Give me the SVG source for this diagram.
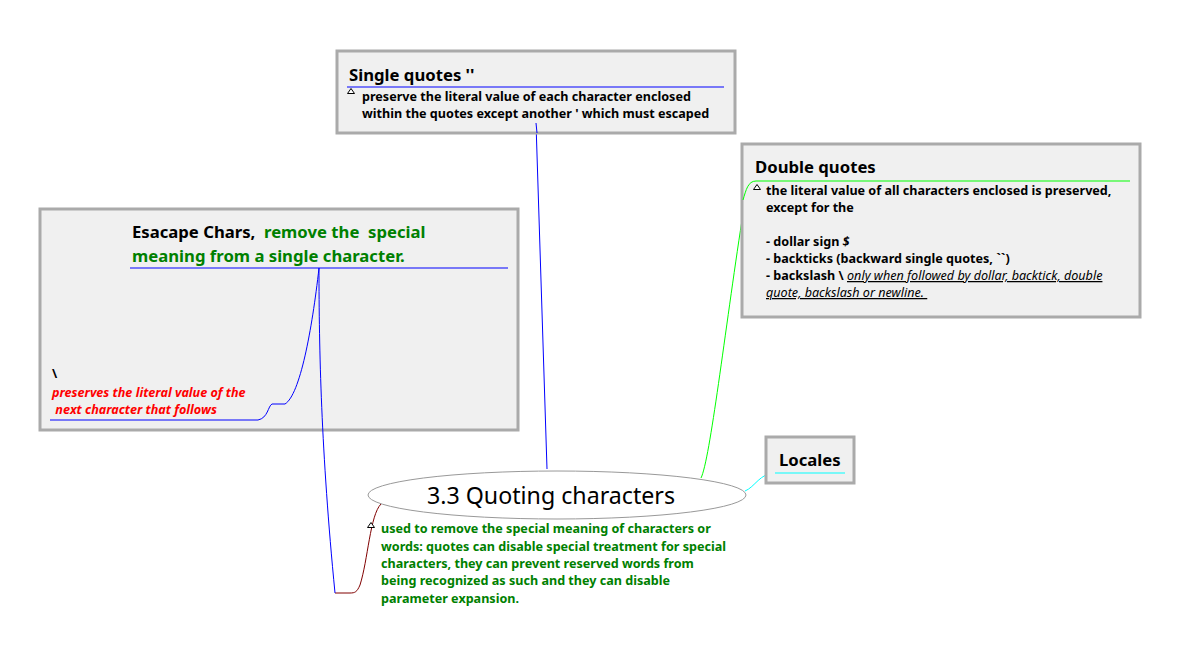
<svg xmlns="http://www.w3.org/2000/svg" width="1180" height="659" viewBox="0 0 1180 659">
<style>
.box{fill:#f0f0f0;stroke:#aaaaaa;stroke-width:3}
.t{font-family:"Noto Sans","Open Sans","DejaVu Sans",sans-serif;font-weight:bold;white-space:pre}
.title{font-size:16.7px;fill:#000}
.body{font-size:12.6px;fill:#000}
.green{fill:#008000}
.red{fill:#ff0000;font-style:italic}
.c{fill:none;stroke-width:1}
.tri{fill:#fff;stroke:#000;stroke-width:1}
</style>
<rect width="1180" height="659" fill="#fff"/>
<g id="connectors">
<path class="c" stroke="#800000" d="M381,504 C370,515 368,560 360,585 C357,592 355,593 350,593 L335,593"/>
<path class="c" stroke="#0000ff" d="M547,469 L536,123"/>
<path class="c" stroke="#00ff00" d="M701,478 C710,460 725,330 742,220 C746,190 748,181 756,181"/>
<path class="c" stroke="#00ffff" d="M745,491 C755,487 760,473 775,473"/>
</g>
<g id="node-single">
<rect class="box" x="337" y="51" width="398" height="82"/>
<text class="t title" x="349" y="81">Single quotes ''</text>
<line x1="347" y1="87" x2="724" y2="87" stroke="#0000ff" stroke-width="1"/>
<path class="tri" d="M347.5,93.5 L351,88.5 L354.5,93.5 Z"/>
<text class="t body" x="362" y="101">preserve the literal value of each character enclosed</text>
<text class="t body" x="362" y="118">within the quotes except another ' which must escaped</text>
<line x1="536" y1="123" x2="537" y2="133" stroke="#0000ff" stroke-width="1"/>
</g>
<g id="node-double">
<rect class="box" x="742" y="144" width="398" height="173"/>
<text class="t title" x="755" y="173">Double quotes</text>
<line x1="756" y1="181" x2="1130" y2="181" stroke="#00ff00" stroke-width="1"/>
<path class="c" stroke="#00ff00" d="M743,200 C746,190 748,181 756,181"/>
<path class="tri" d="M753.5,189.5 L757,184.5 L760.5,189.5 Z"/>
<text class="t body" x="766" y="195">the literal value of all characters enclosed is preserved,</text>
<text class="t body" x="766" y="212">except for the</text>
<text class="t body" x="766" y="246">- dollar sign <tspan font-style="italic">$</tspan></text>
<text class="t body" x="766" y="263">- backticks (backward single quotes, ``)</text>
<text class="t body" x="766" y="280">- backslash \ <tspan font-style="italic" font-weight="normal" text-decoration="underline">only when followed by dollar, backtick, double</tspan></text>
<text class="t body" x="766" y="297"><tspan font-style="italic" font-weight="normal" text-decoration="underline">quote, backslash or newline. </tspan></text>
</g>
<g id="node-escape">
<rect class="box" x="40" y="209" width="478" height="221"/>
<text class="t title" x="132" y="238">Esacape Chars, <tspan class="green"> remove the  special</tspan></text>
<text class="t title green" x="132" y="262">meaning from a single character.</text>
<line x1="130" y1="268" x2="508" y2="268" stroke="#0000ff" stroke-width="1"/>
<path class="c" stroke="#0000ff" d="M319,268 C312,330 300,395 285,404 L272,404 C268,406 268,418 258,420 L50,420"/>
<path class="c" stroke="#0000ff" d="M319,268 C319,350 321,450 335,593"/>
<text class="t body" x="52" y="378">\</text>
<text class="t body red" x="52" y="397">preserves the literal value of the</text>
<text class="t body red" x="52" y="414"> next character that follows</text>
</g>
<g id="node-locales">
<rect class="box" x="766" y="437" width="88" height="46"/>
<text class="t title" x="779" y="466">Locales</text>
<line x1="775" y1="473" x2="845" y2="473" stroke="#00ffff" stroke-width="1"/>
</g>
<g id="node-root">
<ellipse cx="557" cy="495" rx="189" ry="24" fill="#fff" stroke="#999999" stroke-width="1"/>
<text x="551" y="504" text-anchor="middle" font-family="'Noto Sans','Open Sans',sans-serif" font-size="23.2" fill="#000">3.3 Quoting characters</text>
<path class="tri" d="M367.5,527.5 L371,522.5 L374.5,527.5 Z"/>
<text class="t body green" x="381" y="533">used to remove the special meaning of characters or</text>
<text class="t body green" x="381" y="551">words: quotes can disable special treatment for special</text>
<text class="t body green" x="381" y="568">characters, they can prevent reserved words from</text>
<text class="t body green" x="381" y="585">being recognized as such and they can disable</text>
<text class="t body green" x="381" y="603">parameter expansion.</text>
</g>
</svg>
